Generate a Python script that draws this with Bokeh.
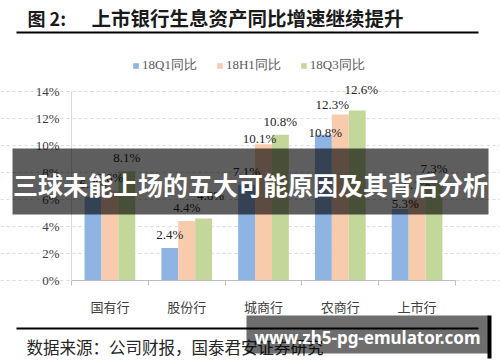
from bokeh.plotting import figure
from bokeh.models import (Range1d, FixedTicker, PrintfTickFormatter, Legend, LegendItem,
                          Label, BoxAnnotation, ColumnDataSource)
from bokeh.core.properties import value
from bokeh.embed import file_html
from bokeh.resources import INLINE
import numpy as np

# ---------------- data ----------------
categories = ["国有行", "股份行", "城商行", "农商行", "上市行"]
series_names = ["18Q1同比", "18H1同比", "18Q3同比"]
q1_values = [6.2, 2.4, 7.1, 10.8, 5.3]
h1_values = [6.6, 4.4, 10.1, 12.3, 6.1]
q3_values = [8.1, 4.6, 10.8, 12.6, 7.3]
y_ticks = [0, 2, 4, 6, 8, 10, 12, 14]
title_prefix = "图 2:"
title_text = "上市银行生息资产同比增速继续提升"
source_text = "数据来源：公司财报，国泰君安证券研究"
banner_text = "三球未能上场的五大可能原因及其背后分析"
watermark_text = "www.zh5-pg-emulator.com"

# ---------------- styles / layout ----------------
colors = ["#8EB4E3", "#F8CBAD", "#C4D79B"]
bar_w = 0.22
offsets = [-bar_w, 0.0, bar_w]
nudge_dx = [[0, 0, 0, 2, 5], [0, 0, -4, -8, 0], [0, 7, 0, 4, 0]]
nudge_dy = [[0, 0, 0, 11, 8], [0, 0, 8, 4, 0], [0, -9, 0, -7, 0]]
serif = "Liberation Serif"
cjk = "Noto Sans CJK SC"

W, H = 500, 362
# plot area in pixels: x 71..455, y(0%)=280, y(14%)=91
PX_L, PX_R, PY_0, PY_14 = 71, 455, 280, 91
n = len(categories)
xs_per_px = n / (PX_R - PX_L)
ys_per_px = 14 / (PY_0 - PY_14)
x_range = Range1d(-0.5 - PX_L * xs_per_px, n - 0.5 + (W - PX_R) * xs_per_px)
y_range = Range1d(-(H - PY_0) * ys_per_px, 14 + PY_14 * ys_per_px)

p = figure(width=W, height=H, output_backend="svg", toolbar_location=None,
           x_range=x_range, y_range=y_range,
           min_border_left=0, min_border_right=0, min_border_top=0, min_border_bottom=0)
p.outline_line_color = None
p.background_fill_color = "white"
p.border_fill_color = "white"
p.xgrid.grid_line_color = None
p.ygrid.grid_line_color = "#D9D9D9"
p.ygrid.grid_line_dash = "3 3"
p.ygrid.bounds = (-0.5, n - 0.5)

# y axis (fixed inside the canvas)
p.yaxis.fixed_location = -0.5
p.yaxis.bounds = (0, 14)
p.yaxis.ticker = FixedTicker(ticks=y_ticks)
p.yaxis.formatter = PrintfTickFormatter(format="%d%%")
p.yaxis.axis_line_color = "#D9D9D9"
p.yaxis.major_tick_line_color = None
p.yaxis.minor_tick_line_color = None
p.yaxis.major_tick_out = 0
p.yaxis.major_tick_in = 0
p.yaxis.major_label_standoff = 12
p.yaxis.major_label_text_font = serif
p.yaxis.major_label_text_font_size = "13px"
p.yaxis.major_label_text_color = "#404040"

# x axis
idx = list(range(n))
p.xaxis.fixed_location = 0
p.xaxis.bounds = (-0.5, n - 0.5)
p.xaxis.ticker = FixedTicker(ticks=idx, minor_ticks=[i - 0.5 for i in range(n + 1)])
p.xaxis.major_label_overrides = {i: c for i, c in zip(idx, categories)}
p.xaxis.axis_line_color = "#BFBFBF"
p.xaxis.major_tick_line_color = None
p.xaxis.major_tick_out = 0
p.xaxis.major_tick_in = 0
p.xaxis.minor_tick_line_color = "#BFBFBF"
p.xaxis.minor_tick_out = 5
p.xaxis.minor_tick_in = 0
p.xaxis.major_label_standoff = 11
p.xaxis.major_label_text_font = cjk
p.xaxis.major_label_text_font_size = "13px"
p.xaxis.major_label_text_color = "#404040"

# bars first, then value labels on top
all_series = [q1_values, h1_values, q3_values]
items = []
sources = []
for s, vals in enumerate(all_series):
    xs = np.array(idx) + offsets[s]
    src = ColumnDataSource(dict(
        x=xs, top=vals,
        lab=["%.1f%%" % v for v in vals],
        dx=nudge_dx[s], dy=[d - 6 for d in nudge_dy[s]],
    ))
    sources.append(src)
    r = p.vbar(x="x", top="top", width=bar_w, bottom=0, source=src,
               fill_color=colors[s], line_color=None)
    items.append(LegendItem(label=series_names[s], renderers=[r]))
for src in sources:
    p.text(x="x", y="top", text="lab", source=src, x_offset="dx", y_offset="dy",
           text_align="center", text_baseline="bottom",
           text_font=value(serif), text_font_size="13px", text_color="#262626")

legend = Legend(items=items, orientation="horizontal", location=(132, H - 74),
                label_text_font=serif, label_text_font_size="13px",
                label_text_color="#595959", glyph_width=7, glyph_height=7,
                label_standoff=3, spacing=19, padding=0, margin=0, label_height=14,
                border_line_color=None, background_fill_alpha=0)
p.add_layout(legend, "center")

def canvas_box(l, r, t, b, **kw):
    return BoxAnnotation(left=l, right=r, top=t, bottom=b,
                         left_units="canvas", right_units="canvas",
                         top_units="canvas", bottom_units="canvas",
                         line_color=None, **kw)

# header / footer
p.add_layout(Label(x=27, y=17, x_units="canvas", y_units="canvas", text=title_prefix,
                   text_font=cjk, text_font_style="bold", text_font_size="18px",
                   text_baseline="middle", text_color="#1a1a1a"))
p.add_layout(Label(x=91, y=17, x_units="canvas", y_units="canvas", text=title_text,
                   text_font=cjk, text_font_style="bold", text_font_size="19.5px",
                   text_baseline="middle", text_color="#1a1a1a"))
p.add_layout(canvas_box(16, 478, 31, 33, fill_color="black", fill_alpha=1))
p.add_layout(canvas_box(16, 478, 327, 329, fill_color="black", fill_alpha=1))
p.add_layout(Label(x=26, y=346, x_units="canvas", y_units="canvas", text=source_text,
                   text_font=cjk, text_font_size="16.5px", text_baseline="middle",
                   text_color="#262626"))

# overlay banner
p.add_layout(canvas_box(12, 488, 148, 214, fill_color="black", fill_alpha=0.63, level="overlay"))
p.add_layout(Label(x=250, y=183, x_units="canvas", y_units="canvas", text=banner_text,
                   text_font=cjk, text_font_style="bold", text_font_size="25px",
                   text_align="center", text_baseline="middle", text_color="white",
                   level="overlay"))

# watermark
p.add_layout(canvas_box(246, 488, 315, 353, fill_color="black", fill_alpha=0.57, level="overlay"))
p.add_layout(canvas_box(487, 491, 315, 358, fill_color="black", fill_alpha=1, level="overlay"))
p.add_layout(Label(x=367, y=337, x_units="canvas", y_units="canvas", text=watermark_text,
                   text_font="Noto Sans", text_font_style="bold", text_font_size="17px",
                   text_align="center", text_baseline="middle", text_color="white",
                   level="overlay"))

open("out.html", "w").write(file_html(p, INLINE))
